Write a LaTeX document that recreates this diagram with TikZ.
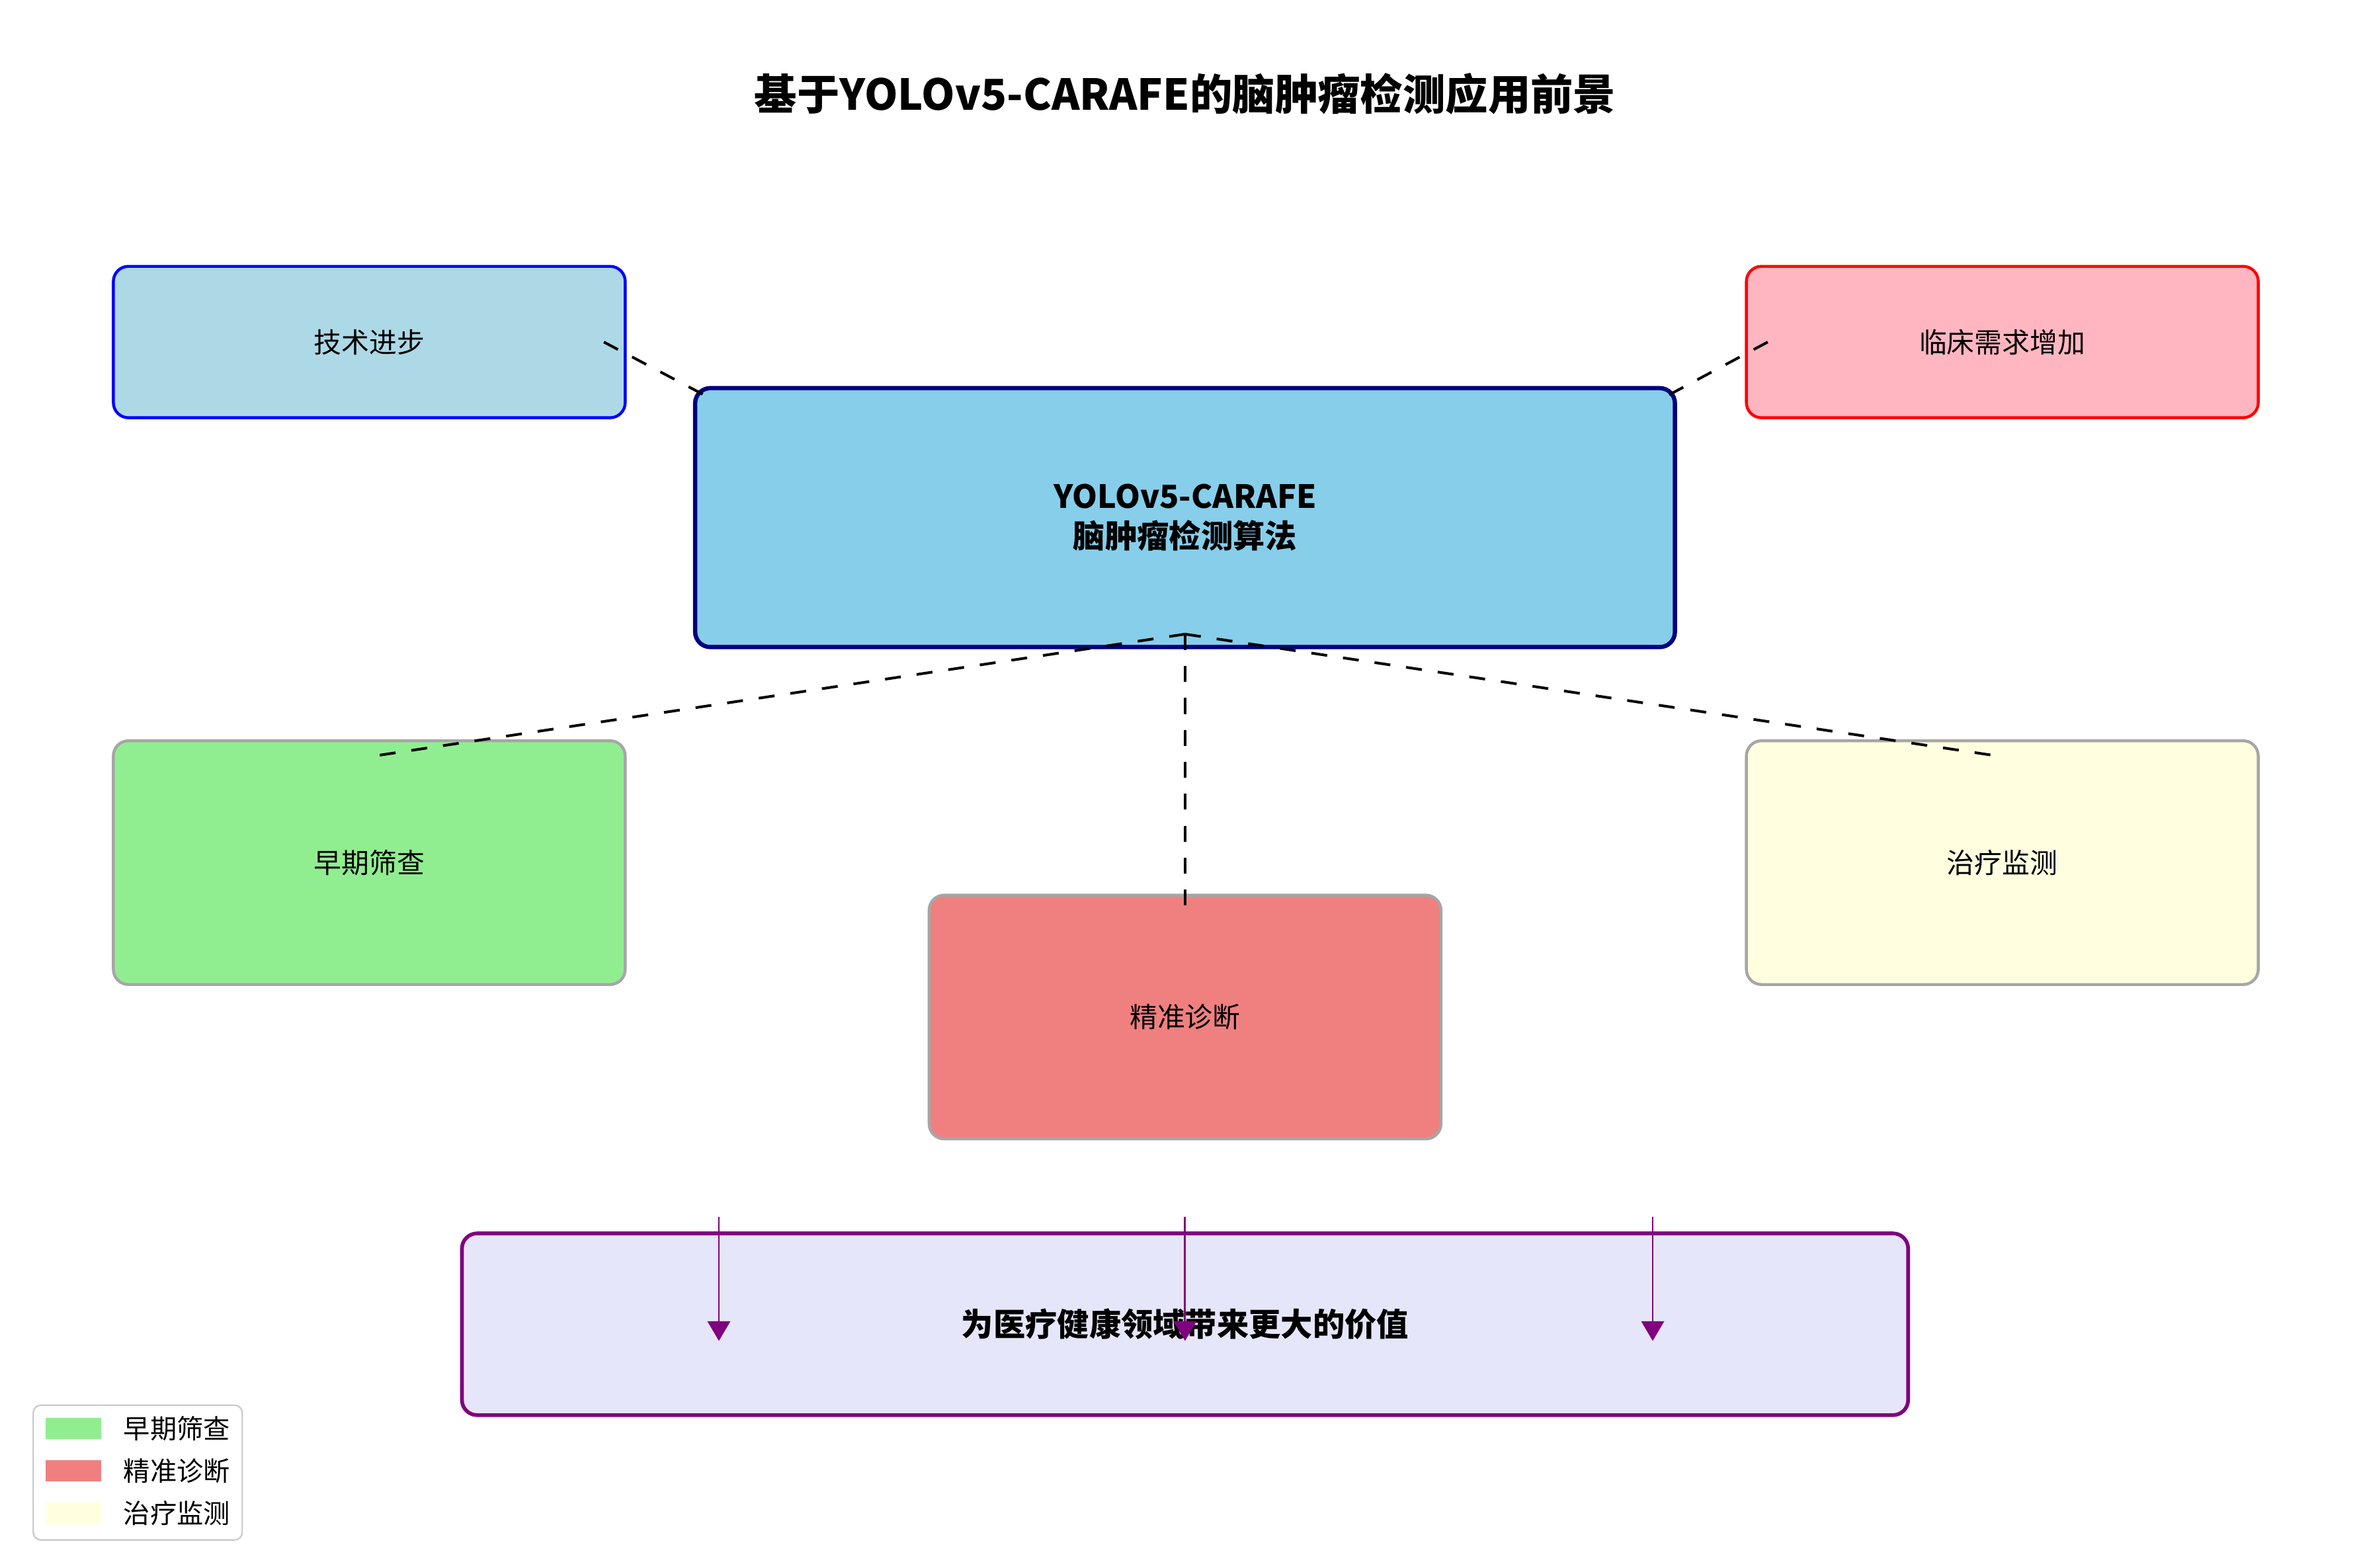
\documentclass[tikz,border=0pt]{standalone}
\usepackage{fontspec}
\setmainfont{Noto Sans CJK SC}
\usetikzlibrary{arrows.meta}
\definecolor{lblue}{HTML}{ADD8E6}
\definecolor{lpink}{HTML}{FFB6C1}
\definecolor{sky}{HTML}{87CEEB}
\definecolor{lgreen}{HTML}{90EE90}
\definecolor{lcoral}{HTML}{F08080}
\definecolor{lyellow}{HTML}{FFFFE0}
\definecolor{lav}{HTML}{E6E6FA}
\definecolor{navy}{HTML}{000080}
\definecolor{purp}{HTML}{800080}
\begin{document}
\begin{tikzpicture}[x=0.01cm,y=-0.01cm,
    box/.style = {draw,rounded corners=0.1cm,line width=0.55pt,font=\fontsize{5.2}{6}\selectfont},
    app/.style = {box,draw=gray!70},
    dashlink/.style = {dashed,line width=0.5pt},
    arrow/.style = {purp,line width=0.35pt,-{Triangle[length=0.13cm,width=0.15cm]}}]
                \useasboundingbox (0,0) rectangle (1560,1036);
                \node[font=\bfseries\fontsize{8}{9}\selectfont] (title) at (783,62) {基于YOLOv5-CARAFE的脑肿瘤检测应用前景};

                \node[box,draw=blue,fill=lblue,minimum width=3.38cm,minimum height=1cm] (tech) at (244,226) {技术进步};
                \node[box,draw=red,fill=lpink,minimum width=3.38cm,minimum height=1cm] (need) at (1323,226) {临床需求增加};
                \node[box,draw=navy,fill=sky,line width=0.8pt,minimum width=6.47cm,minimum height=1.71cm,
                    font=\bfseries\fontsize{6}{7.5}\selectfont,align=center] (algo) at (783,342) {YOLOv5-CARAFE\\脑肿瘤检测算法};
                \node[app,fill=lgreen,minimum width=3.38cm,minimum height=1.61cm] (screen) at (244,570) {早期筛查};
                \node[app,fill=lcoral,minimum width=3.38cm,minimum height=1.61cm] (diag) at (783,672) {精准诊断};
                \node[app,fill=lyellow,minimum width=3.38cm,minimum height=1.61cm] (treat) at (1323,570) {治疗监测};
                \node[box,draw=purp,fill=lav,line width=0.7pt,minimum width=9.55cm,minimum height=1.2cm,
                    font=\bfseries\fontsize{6}{7}\selectfont] (value) at (783,875) {为医疗健康领域带来更大的价值};

                % dashed links
                \coordinate (hub) at (783,419);
                \coordinate (t1) at (399,226);
                \coordinate (t2) at (471,264);
                \coordinate (n1) at (1168,226);
                \coordinate (n2) at (1097,264);
                \coordinate (s1) at (244,500);
                \coordinate (r1) at (1323,500);
                \coordinate (d1) at (783,601);
                \draw[dashlink] (t1) -- (t2);
                \draw[dashlink] (n1) -- (n2);
                \draw[dashlink] (hub) -- (s1);
                \draw[dashlink] (hub) -- (r1);
                \draw[dashlink] (hub) -- (d1);

                % arrows into the value box
                \foreach \x/\n in {475/a,783/b,1092/c} {
                    \coordinate (top\n) at (\x,804);
                    \coordinate (end\n) at (\x,886);
                    \draw[arrow] (top\n) -- (end\n);
                }

                % legend
                \node[draw=gray!40,rounded corners=0.05cm,minimum width=1.38cm,minimum height=0.89cm,line width=0.3pt] (legend) at (91,973) {};
                \foreach \c/\t/\y in {lgreen/早期筛查/944,lcoral/精准诊断/972,lyellow/治疗监测/1000} {
                    \fill[\c] (30,\y-7) rectangle (67,\y+7);
                    \node[anchor=west,font=\fontsize{5}{6}\selectfont,inner sep=0pt] at (81,\y) {\t};
                }
            \end{tikzpicture}
\end{document}
